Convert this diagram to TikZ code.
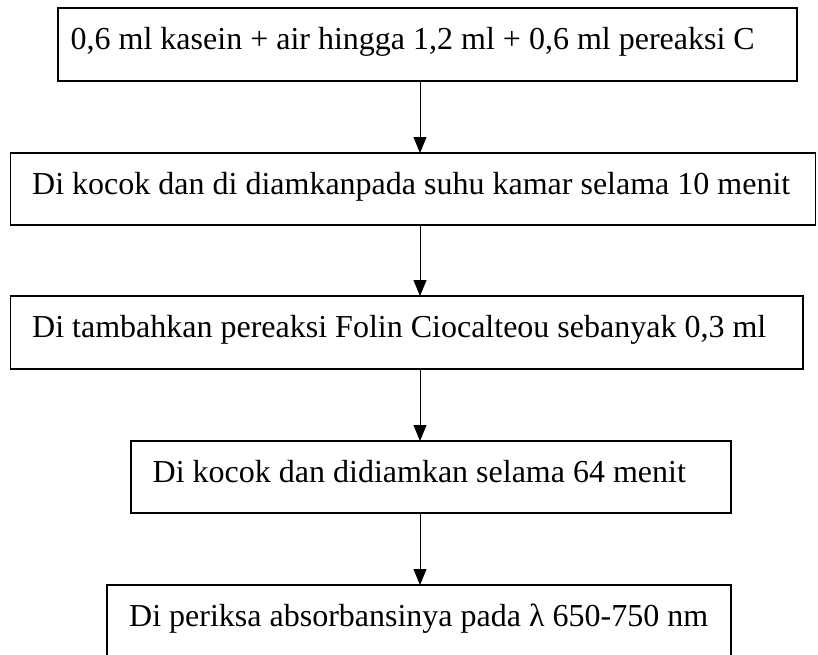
\documentclass[tikz,border=0pt]{standalone}
\usepackage{fontspec}
\setmainfont{Liberation Serif}
\usetikzlibrary{arrows.meta}
\tikzset{
  box/.style={draw=black, line width=1.3pt, rectangle, inner sep=0pt, outer sep=0pt, anchor=north west},
  txt/.style={anchor=base west, inner sep=0pt, font=\fontsize{32}{38}\selectfont},
  arr/.style={line width=1pt, -{Triangle[width=13pt,length=16pt]}}
}
\begin{document}
\begin{tikzpicture}[x=1pt,y=-1pt]
\useasboundingbox (0,0) rectangle (818,654);
\clip (0,0) rectangle (818,654);
\fill[white] (0,0) rectangle (818,654);
\coordinate (ax) at (420,0);
% boxes
\node[box, minimum width=739pt, minimum height=73pt] (b1) at (58,8) {};
\node[box, minimum width=805pt, minimum height=72pt] (b2) at (10.5,153) {};
\node[box, minimum width=792.5pt, minimum height=73pt] (b3) at (10.5,296) {};
\node[box, minimum width=600pt, minimum height=72pt] (b4) at (131,441) {};
\node[box, minimum width=624pt, minimum height=90pt] (b5) at (107,585) {};
% texts
\node[txt] (t1) at (70.5,49.5) {0,6 ml kasein + air hingga 1,2 ml + 0,6 ml pereaksi C};
\node[txt] (t2) at (32,194) {Di kocok dan di diamkanpada suhu kamar selama 10 menit};
\node[txt] (t3) at (32,337) {Di tambahkan pereaksi Folin Ciocalteou sebanyak 0,3 ml};
\node[txt] (t4) at (152.5,482) {Di kocok dan didiamkan selama 64 menit};
\node[txt] (t5) at (129,626) {Di periksa absorbansinya pada λ 650-750 nm};
% arrows
\draw[arr] (b1.south -| ax) -- (b2.north -| ax);
\draw[arr] (b2.south -| ax) -- (b3.north -| ax);
\draw[arr] (b3.south -| ax) -- (b4.north -| ax);
\draw[arr] (b4.south -| ax) -- (b5.north -| ax);
\end{tikzpicture}
\end{document}
